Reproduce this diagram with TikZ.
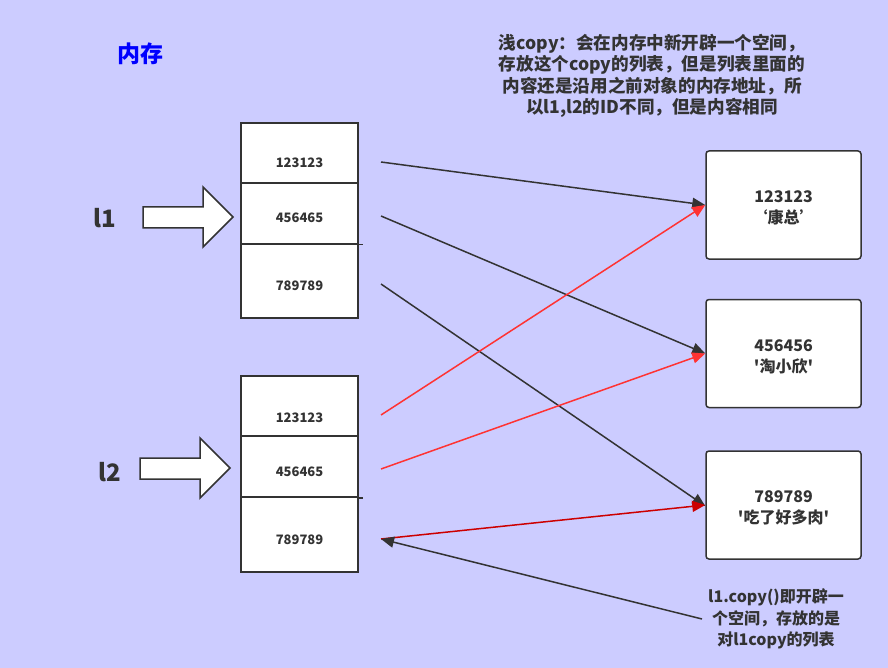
\documentclass[tikz,border=0pt]{standalone}
\usepackage{fontspec}
\setmainfont{Noto Sans CJK SC}[Ligatures=TeXOff]
\usetikzlibrary{arrows.meta}
\definecolor{bg}{HTML}{CCCCFF}
\definecolor{ink}{HTML}{333333}
\definecolor{lred}{HTML}{FF3333}
\definecolor{dred}{HTML}{CC0000}
\tikzset{
  cell/.style={draw=ink, line width=1.5pt, fill=white, minimum width=117pt, inner sep=0pt},
  celltxt/.style={text=ink, font=\fontsize{13}{15}\selectfont\bfseries},
  obj/.style={draw=ink, line width=1.5pt, fill=white, rounded corners=3pt, minimum width=155pt, minimum height=108pt},
  objtxt/.style={align=center, text=ink, font=\fontsize{16}{20.5}\selectfont\bfseries},
  note/.style={align=center, text=ink, font=\fontsize{16}{21.5}\selectfont\bfseries},
  topnote/.style={align=center, text=ink, font=\fontsize{17.6}{21.5}\selectfont\bfseries},
  biglbl/.style={text=ink, font=\fontsize{24}{28}\selectfont\bfseries},
  fat/.style={draw=ink, line width=1.5pt, fill=white},
  lnk/.style={draw=ink, line width=1.5pt, -{Triangle[length=13pt,width=11pt]}},
  rlnk/.style={draw=lred, line width=1.5pt, -{Triangle[length=13pt,width=11pt]}},
  dlnk/.style={draw=dred, line width=1.5pt, -{Triangle[length=13pt,width=11pt]}},
}
\begin{document}
\begin{tikzpicture}[x=1pt,y=-1pt]
\fill[bg] (0,0) rectangle (888,668);
\useasboundingbox (0,0) rectangle (888,668);

\node[text=blue, font=\fontsize{23}{26}\selectfont\bfseries] (mem) at (140,54) {内存};

\node[topnote] (top) at (652,76) {浅copy：会在内存中新开辟一个空间，\\存放这个copy的列表，但是列表里面的\\内容还是沿用之前对象的内存地址，所\\以l1,l2的ID不同，但是内容相同};

% l1 list
\node[cell, minimum height=60pt] (a1) at (299.5,153) {};
\node[cell, minimum height=61pt] (a2) at (299.5,213.5) {};
\node[cell, minimum height=74pt] (a3) at (299.5,281) {};
\draw[ink, line width=1.5pt] (a2.south east) -- ++(4,0);
\node[celltxt] (ta1) at (299.5,163) {123123};
\node[celltxt] (ta2) at (299.5,218) {456465};
\node[celltxt] (ta3) at (299.5,286) {789789};

% l2 list
\node[cell, minimum height=60pt] (b1) at (299.5,406) {};
\node[cell, minimum height=61pt] (b2) at (299.5,466.5) {};
\node[cell, minimum height=75pt] (b3) at (299.5,534.5) {};
\draw[ink, line width=1.5pt] (b2.south east) -- ++(4,0);
\node[celltxt] (tb1) at (299.5,418) {123123};
\node[celltxt] (tb2) at (299.5,472) {456465};
\node[celltxt] (tb3) at (299.5,540) {789789};

% labels and fat arrows
\node[biglbl] (l1) at (105,218) {l1};
\node[biglbl] (l2) at (110,472) {l2};
\draw[fat] (143,207) -- (203,207) -- (203,187) -- (233,217) -- (203,247) -- (203,228) -- (143,228) -- cycle;
\draw[fat] (140,458) -- (200,458) -- (200,438) -- (230,468) -- (200,498) -- (200,479) -- (140,479) -- cycle;

% object boxes
\node[obj] (o1) at (783.5,205) {};
\node[obj] (o2) at (783.5,353.5) {};
\node[obj] (o3) at (783.5,505) {};
\node[objtxt] (t1) at (783.5,208) {123123\\‘康总’};
\node[objtxt] (t2) at (783.5,357) {456456\\'淘小欣'};
\node[objtxt] (t3) at (783.5,508) {789789\\'吃了好多肉'};

% connector anchors
\coordinate (sa1) at (381,162);
\coordinate (sa2) at (381,216);
\coordinate (sa3) at (381,284);
\coordinate (sb1) at (381,415);
\coordinate (sb2) at (381,469);
\coordinate (sb3) at (381,539);

\draw[lnk] (sa1) -- (o1.west);
\draw[lnk] (sa2) -- (o2.west);
\draw[lnk] (sa3) -- ([yshift=-1pt]o3.west);
\draw[rlnk] (sb1) -- (o1.west);
\draw[rlnk] (sb2) -- (o2.west);
\draw[dlnk] (sb3) -- (o3.west);

\node[note] (cp) at (776,619) {l1.copy()即开辟一\\个空间，存放的是\\对l1copy的列表};
\coordinate (cpa) at (702,619);
\draw[lnk] (cpa) -- (sb3);
\end{tikzpicture}
\end{document}
